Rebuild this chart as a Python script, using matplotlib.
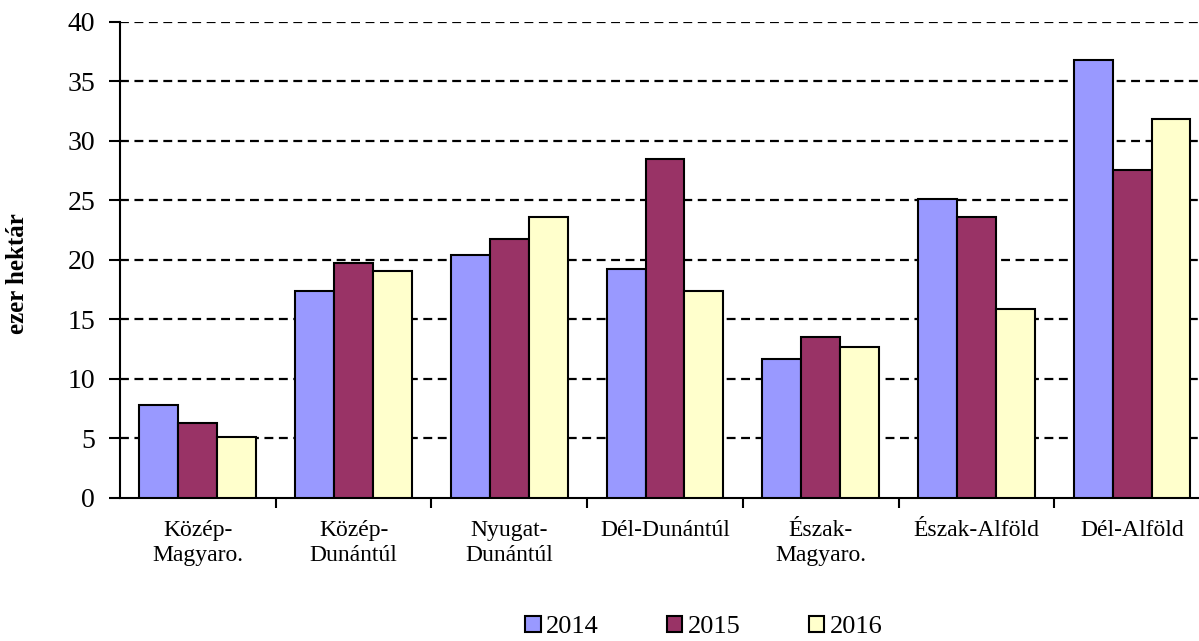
import numpy as np
import matplotlib
matplotlib.use("Agg")
import matplotlib.pyplot as plt
from matplotlib.patches import Patch

plt.rcParams['font.family'] = ['Liberation Serif', 'DejaVu Serif']

regions = ['Közép-\nMagyaro.', 'Közép-\nDunántúl', 'Nyugat-\nDunántúl', 'Dél-Dunántúl',
           'Észak-\nMagyaro.', 'Észak-Alföld', 'Dél-Alföld']
years = ['2014', '2015', '2016']
vals_2014 = [7.8, 17.4, 20.4, 19.25, 11.7, 25.1, 36.8]
vals_2015 = [6.3, 19.75, 21.8, 28.5, 13.5, 23.6, 27.6]
vals_2016 = [5.1, 19.1, 23.6, 17.4, 12.7, 15.9, 31.85]
colors = ['#9999FF', '#993366', '#FFFFCC']

fig = plt.figure(figsize=(11.99, 6.41), dpi=100)
# plot area runs off the right edge, like the original
ax = fig.add_axes([0.1001, 0.2231, 0.909, 0.7426])

x = np.arange(len(regions))
w = 0.25
for i, (vals, c) in enumerate(zip([vals_2014, vals_2015, vals_2016], colors)):
    ax.bar(x + (i - 1) * w, vals, width=w, color=c, edgecolor='black', linewidth=1.5, zorder=3)

ax.set_xlim(-0.5, len(regions) - 0.5)
ax.set_ylim(0, 40)
ax.set_yticks(np.arange(0, 41, 5))
for yv in np.arange(5, 41, 5):
    ax.axhline(yv, color='black', linestyle=(0, (4, 2.5)), linewidth=1.6, zorder=1)

ax.set_xticks(x)
ax.set_xticklabels(regions, fontsize=17, linespacing=1.22)
ax.set_xticks(np.arange(0.5, len(regions) - 0.5, 1), minor=True)
ax.tick_params(axis='x', which='major', length=0, pad=16)
ax.tick_params(axis='x', which='minor', length=7, width=1.5, direction='out')
ax.tick_params(axis='y', labelsize=20, length=8, width=1.5, direction='out', pad=10)

for s in ['top', 'right']:
    ax.spines[s].set_visible(False)
ax.spines['left'].set_linewidth(1.5)
ax.spines['bottom'].set_linewidth(1.5)

fig.text(18 / 1199, 1 - 274 / 641, 'ezer hektár', fontsize=18, fontweight='bold',
         rotation=90, ha='center', va='center')

handles = [Patch(facecolor=c, edgecolor='black', linewidth=1.5) for c in colors]
fig.legend(handles, years, loc='center', bbox_to_anchor=(0.587, 0.022), ncol=3, frameon=False,
           fontsize=19, handlelength=0.58, handleheight=0.58, handletextpad=0.2,
           columnspacing=2.6, borderpad=0)

fig.savefig('out.png', dpi=100)
